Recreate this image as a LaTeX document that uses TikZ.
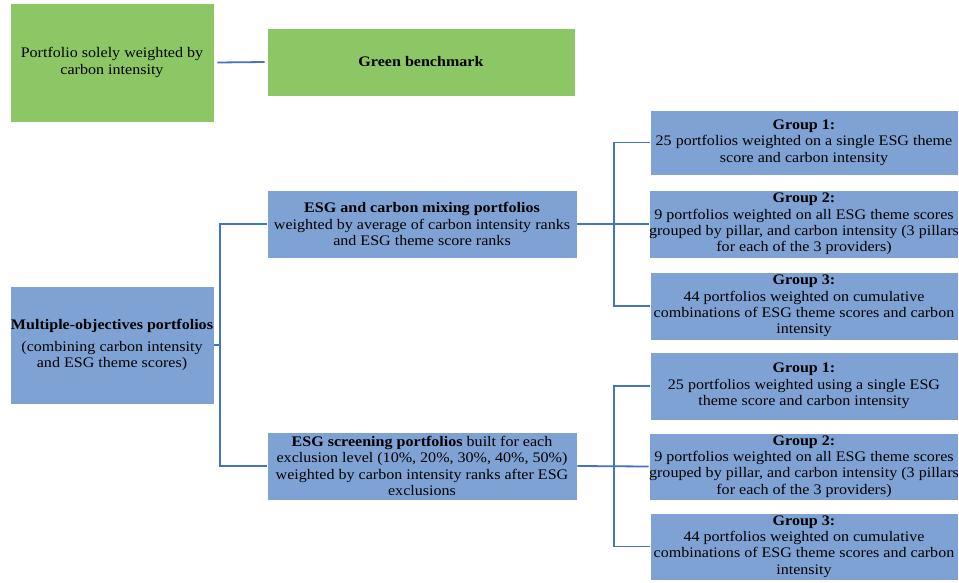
\documentclass[tikz,border=0pt]{standalone}
\usepackage{fontspec}
\setmainfont{Liberation Serif}[FakeStretch=1.1]
\definecolor{gfill}{HTML}{8CC665}
\definecolor{bfill}{HTML}{7FA2D5}
\definecolor{lcol}{HTML}{4472C4}
\tikzset{
  boxbase/.style={draw=white, line width=0.8pt, inner sep=0pt, align=center, font=\fontsize{14.6}{16.4}\selectfont},
  gbox/.style={boxbase, fill=gfill},
  bbox/.style={boxbase, fill=bfill},
  conn/.style={draw=lcol, line width=1.8pt}
}
\begin{document}
\begin{tikzpicture}[x=1pt,y=-1pt]
\useasboundingbox (0,0) rectangle (959,582);
% green
\node[gbox, minimum width=204, minimum height=119] (pc) at (112,62.5) {Portfolio solely weighted by\\carbon intensity};
\node[gbox, minimum width=308, minimum height=68] (gb) at (421,62) {\textbf{Green benchmark}};
% left
\node[bbox, minimum width=204, minimum height=118] (mo) at (112,345) {\textbf{Multiple-objectives portfolios}\\[5pt](combining carbon intensity\\and ESG theme scores)};
\node[bbox, minimum width=310, minimum height=68] (mix) at (422,224) {\textbf{ESG and carbon mixing portfolios}\\weighted by average of carbon intensity ranks\\and ESG theme score ranks};
\node[bbox, minimum width=310, minimum height=68] (scr) at (422,466) {\textbf{ESG screening portfolios} built for each\\exclusion level (10\%, 20\%, 30\%, 40\%, 50\%)\\weighted by carbon intensity ranks after ESG\\exclusions};
% groups top
\node[bbox, minimum width=308, minimum height=65] (a1) at (804,142.5) {\textbf{Group 1:}\\25 portfolios weighted on a single ESG theme\\score and carbon intensity};
\node[bbox, minimum width=308, minimum height=68] (a2) at (804,224) {\textbf{Group 2:}\\9 portfolios weighted on all ESG theme scores\\grouped by pillar, and carbon intensity (3 pillars\\for each of the 3 providers)};
\node[bbox, minimum width=308, minimum height=68] (a3) at (804,306) {\textbf{Group 3:}\\44 portfolios weighted on cumulative\\combinations of ESG theme scores and carbon\\intensity};
% groups bottom
\node[bbox, minimum width=308, minimum height=68] (b1) at (804,386) {\textbf{Group 1:}\\25 portfolios weighted using a single ESG\\theme score and carbon intensity};
\node[bbox, minimum width=308, minimum height=67] (b2) at (804,466.5) {\textbf{Group 2:}\\9 portfolios weighted on all ESG theme scores\\grouped by pillar, and carbon intensity (3 pillars\\for each of the 3 providers)};
\node[bbox, minimum width=308, minimum height=67] (b3) at (804,546.5) {\textbf{Group 3:}\\44 portfolios weighted on cumulative\\combinations of ESG theme scores and carbon\\intensity};
% trunk coordinates
\coordinate (lt) at (220,0);
\coordinate (rt) at (614,0);
% connectors
\draw[conn] ([xshift=3pt]pc.east) -- ([xshift=-2pt]gb.west);
\draw[conn] (mo.east) -- (mo.east -| lt);
\draw[conn] (mix.west) -- (mix.west -| lt) -- (scr.west -| lt) -- (scr.west);
\draw[conn] (mix.east) -- (a2.west);
\draw[conn] (a1.west) -- (a1.west -| rt) -- (a3.west -| rt) -- (a3.west);
\draw[conn] (scr.east) -- (b2.west);
\draw[conn] (b1.west) -- (b1.west -| rt) -- (b3.west -| rt) -- (b3.west);
\end{tikzpicture}
\end{document}
